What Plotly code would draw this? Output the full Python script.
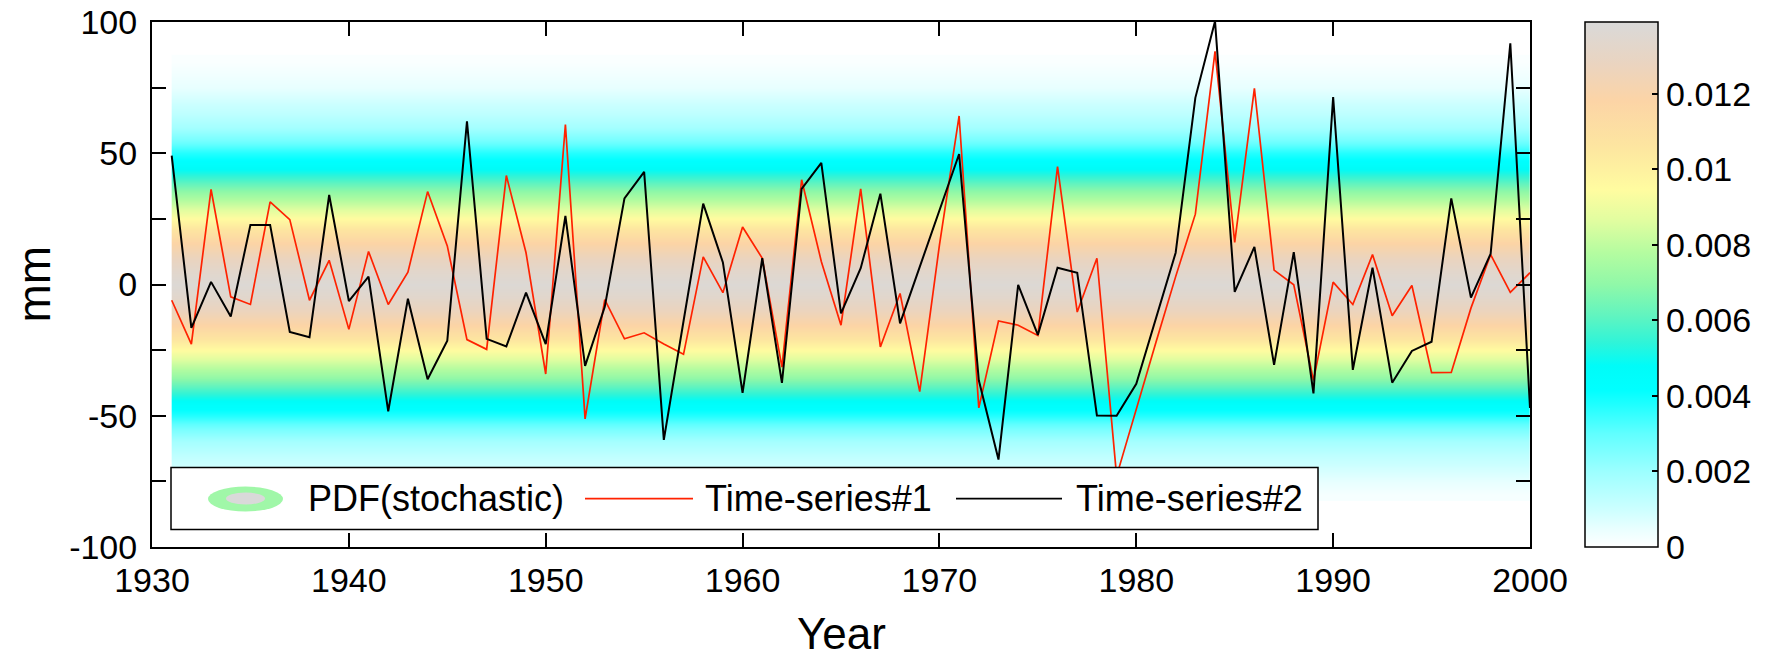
import plotly.graph_objects as go

# ---------------- data ----------------
years = list(range(1931, 2001))

series1 = [-6.0, -22.7, 36.2, -4.7, -7.6, 31.5, 24.7, -6.0, 9.2, -17.1,
           12.6, -7.6, 4.7, 35.4, 14.7, -21.0, -24.7, 41.5, 12.1, -34.1,
           60.9, -51.2, -5.8, -20.7, -18.4, -22.7, -26.6, 10.5, -3.1, 21.9,
           10.0, -31.5, 39.9, 8.8, -15.5, 36.4, -23.8, -3.4, -40.8, 15.0,
           64.2, -47.0, -13.9, -15.5, -19.4, 44.9, -10.5, 10.0, -73.0, -47.0,
           -22.0, 3.0, 26.8, 88.8, 16.0, 74.7, 5.5, -0.1, -36.5, 0.9,
           -7.6, 11.4, -11.9, -0.4, -33.6, -33.5, -9.0, 11.4, -3.0, 4.5]

series2 = [49.1, -16.5, 1.0, -12.2, 22.7, 22.7, -18.1, -20.1, 34.1, -6.3,
           3.0, -48.3, -5.4, -36.1, -21.4, 62.2, -20.7, -23.6, -3.1, -22.7,
           26.1, -31.0, -8.5, 32.8, 42.9, -59.2, -14.0, 30.8, 8.4, -41.3,
           10.0, -37.5, 36.4, 46.3, -11.0, 6.2, 34.6, -14.8, 6.7, 28.2,
           49.7, -36.5, -66.7, -0.1, -19.2, 6.4, 4.5, -49.9, -50.0, -37.8,
           -13.0, 12.1, 71.1, 100.3, -2.8, 14.3, -30.6, 12.3, -41.5, 71.4,
           -32.5, 6.4, -37.4, -25.3, -21.8, 32.8, -5.0, 11.7, 91.9, -47.0]

# PDF of the stochastic ensemble: density (1/mm) at each level (mm)
pdf_levels = [-80, -75, -70, -65, -60, -55, -50, -45, -40, -35, -30, -25,
              -20, -15, -10, -5, 0, 5, 10, 15, 20, 25, 30, 35, 40, 45, 50,
              55, 60, 65, 70, 75, 80, 85]
pdf_values = [0.0002, 0.0005, 0.0009, 0.0013, 0.0018, 0.0026, 0.0037, 0.0046,
              0.0058, 0.0071, 0.0083, 0.0095, 0.0108, 0.0119, 0.0127, 0.0133,
              0.0137, 0.0133, 0.0127, 0.0119, 0.0108, 0.0095, 0.0083, 0.0071,
              0.0058, 0.0046, 0.0037, 0.0026, 0.0018, 0.0013, 0.0009, 0.0005,
              0.0003, 0.0001]

x_ticks = [1930, 1940, 1950, 1960, 1970, 1980, 1990, 2000]
y_ticks = [-100, -50, 0, 50, 100]
y_ticktext = ["-100", "-50", "0", "50", "100"]
cb_ticks = [0, 0.002, 0.004, 0.006, 0.008, 0.01, 0.012]
cb_ticktext = ["0", "0.002", "0.004", "0.006", "0.008", "0.01", "0.012"]

# ---------------- style ----------------
FONT = "Liberation Sans, Arial, Helvetica, sans-serif"
W, H = 1776, 661
PL, PR, PT, PB = 152, 1530, 22, 547.5   # plot area (px)
pw, ph = PR - PL, PB - PT


def px(xs):
    """pixel x -> paper fraction"""
    return (xs - PL) / pw


def py(ys):
    """pixel y -> paper fraction"""
    return (PB - ys) / ph


colorscale = [
    [0.0, "#ffffff"], [0.036, "#e8ffff"], [0.072, "#ccffff"], [0.144, "#9cffff"],
    [0.216, "#60ffff"], [0.27, "#20ffff"], [0.30, "#00ffff"], [0.345, "#00fcf8"],
    [0.39, "#30f4d8"], [0.44, "#60f4c0"], [0.50, "#90f8a8"], [0.56, "#b4fca0"],
    [0.62, "#e0fda0"], [0.68, "#fffca0"], [0.76, "#fde6a0"], [0.85, "#fcd4a6"],
    [0.92, "#ead4c0"], [1.0, "#d9d9d9"],
]

z = [[v] * (len(years) - 1) for v in pdf_values]

fig = go.Figure()
fig.add_trace(go.Heatmap(
    x=years, y=pdf_levels, z=z, zmin=0, zmax=0.0139,
    colorscale=colorscale, zsmooth="best", name="PDF(stochastic)",
    showlegend=False, hoverinfo="skip",
    colorbar=dict(
        x=px(1585), xanchor="left", y=0.5, yanchor="middle", len=1,
        lenmode="fraction", thickness=73, thicknessmode="pixels",
        xpad=0, ypad=0, outlinewidth=1.5, outlinecolor="black",
        tickvals=cb_ticks, ticktext=cb_ticktext, ticks="inside",
        ticklen=6, tickwidth=1.5, tickcolor="black",
        tickfont=dict(family=FONT, size=34, color="black"),
    ),
))
fig.add_trace(go.Scatter(x=years, y=series1, mode="lines", name="Time-series#1",
                         line=dict(color="#ff2200", width=1.7), showlegend=False))
fig.add_trace(go.Scatter(x=years, y=series2, mode="lines", name="Time-series#2",
                         line=dict(color="black", width=2), showlegend=False))

# ---------------- legend (drawn) ----------------
shapes = []
annotations = []
shapes.append(dict(type="rect", xref="paper", yref="paper",
                   x0=px(171), x1=px(1318), y0=py(530), y1=py(468),
                   line=dict(color="black", width=1.5), fillcolor="white", layer="above"))
shapes.append(dict(type="circle", xref="paper", yref="paper",
                   x0=px(208), x1=px(283), y0=py(512), y1=py(487),
                   line=dict(width=0), fillcolor="#a0f7a8", layer="above"))
shapes.append(dict(type="circle", xref="paper", yref="paper",
                   x0=px(226), x1=px(265), y0=py(505), y1=py(493),
                   line=dict(width=0), fillcolor="#d9d9d9", layer="above"))
shapes.append(dict(type="line", xref="paper", yref="paper",
                   x0=px(585), x1=px(693), y0=py(499), y1=py(499),
                   line=dict(color="#ff2200", width=1.7), layer="above"))
shapes.append(dict(type="line", xref="paper", yref="paper",
                   x0=px(956), x1=px(1062), y0=py(499), y1=py(499),
                   line=dict(color="black", width=1.7), layer="above"))
for label, xl in [("PDF(stochastic)", 306), ("Time-series#1", 703), ("Time-series#2", 1074)]:
    annotations.append(dict(text=label, xref="paper", yref="paper", x=px(xl), y=py(499),
                            xanchor="left", yanchor="middle", showarrow=False,
                            font=dict(family=FONT, size=36, color="black")))

# axis titles
annotations.append(dict(text="mm", xref="paper", yref="paper", x=px(33), y=0.5,
                        xanchor="center", yanchor="middle", textangle=-90, showarrow=False,
                        font=dict(family=FONT, size=46, color="black")))
annotations.append(dict(text="Year", xref="paper", yref="paper", x=0.5, y=py(634),
                        xanchor="center", yanchor="middle", showarrow=False,
                        font=dict(family=FONT, size=44, color="black")))

fig.update_layout(
    width=W, height=H,
    margin=dict(l=PL, r=W - PR, t=PT, b=H - PB, pad=0, autoexpand=False),
    paper_bgcolor="white", plot_bgcolor="white",
    showlegend=False,
    shapes=shapes, annotations=annotations,
    font=dict(family=FONT, color="black"),
    xaxis=dict(range=[1930, 2000], tickvals=x_ticks, ticks="inside", ticklen=14,
               tickwidth=1.5, tickcolor="black", showline=True, linewidth=2,
               linecolor="black", mirror="ticks", showgrid=False, zeroline=False,
               tickfont=dict(family=FONT, size=34, color="black"),
               ticklabelstandoff=2, ticklabeloverflow="allow"),
    yaxis=dict(range=[-100, 100], tickvals=y_ticks, ticktext=y_ticktext,
               ticks="inside", ticklen=14, tickwidth=1.5, tickcolor="black",
               showline=True, linewidth=2, linecolor="black", mirror="ticks",
               showgrid=False, zeroline=False,
               minor=dict(dtick=25, ticks="inside", ticklen=14, tickwidth=1.5,
                          tickcolor="black", showgrid=False),
               tickfont=dict(family=FONT, size=34, color="black"),
               ticklabelstandoff=6, ticklabeloverflow="allow"),
)

# remove the default 8px page margin so the figure fills the window exactly
fig.write_html("out.html", config={"displayModeBar": False},
               post_script="document.body.style.margin='0';")
